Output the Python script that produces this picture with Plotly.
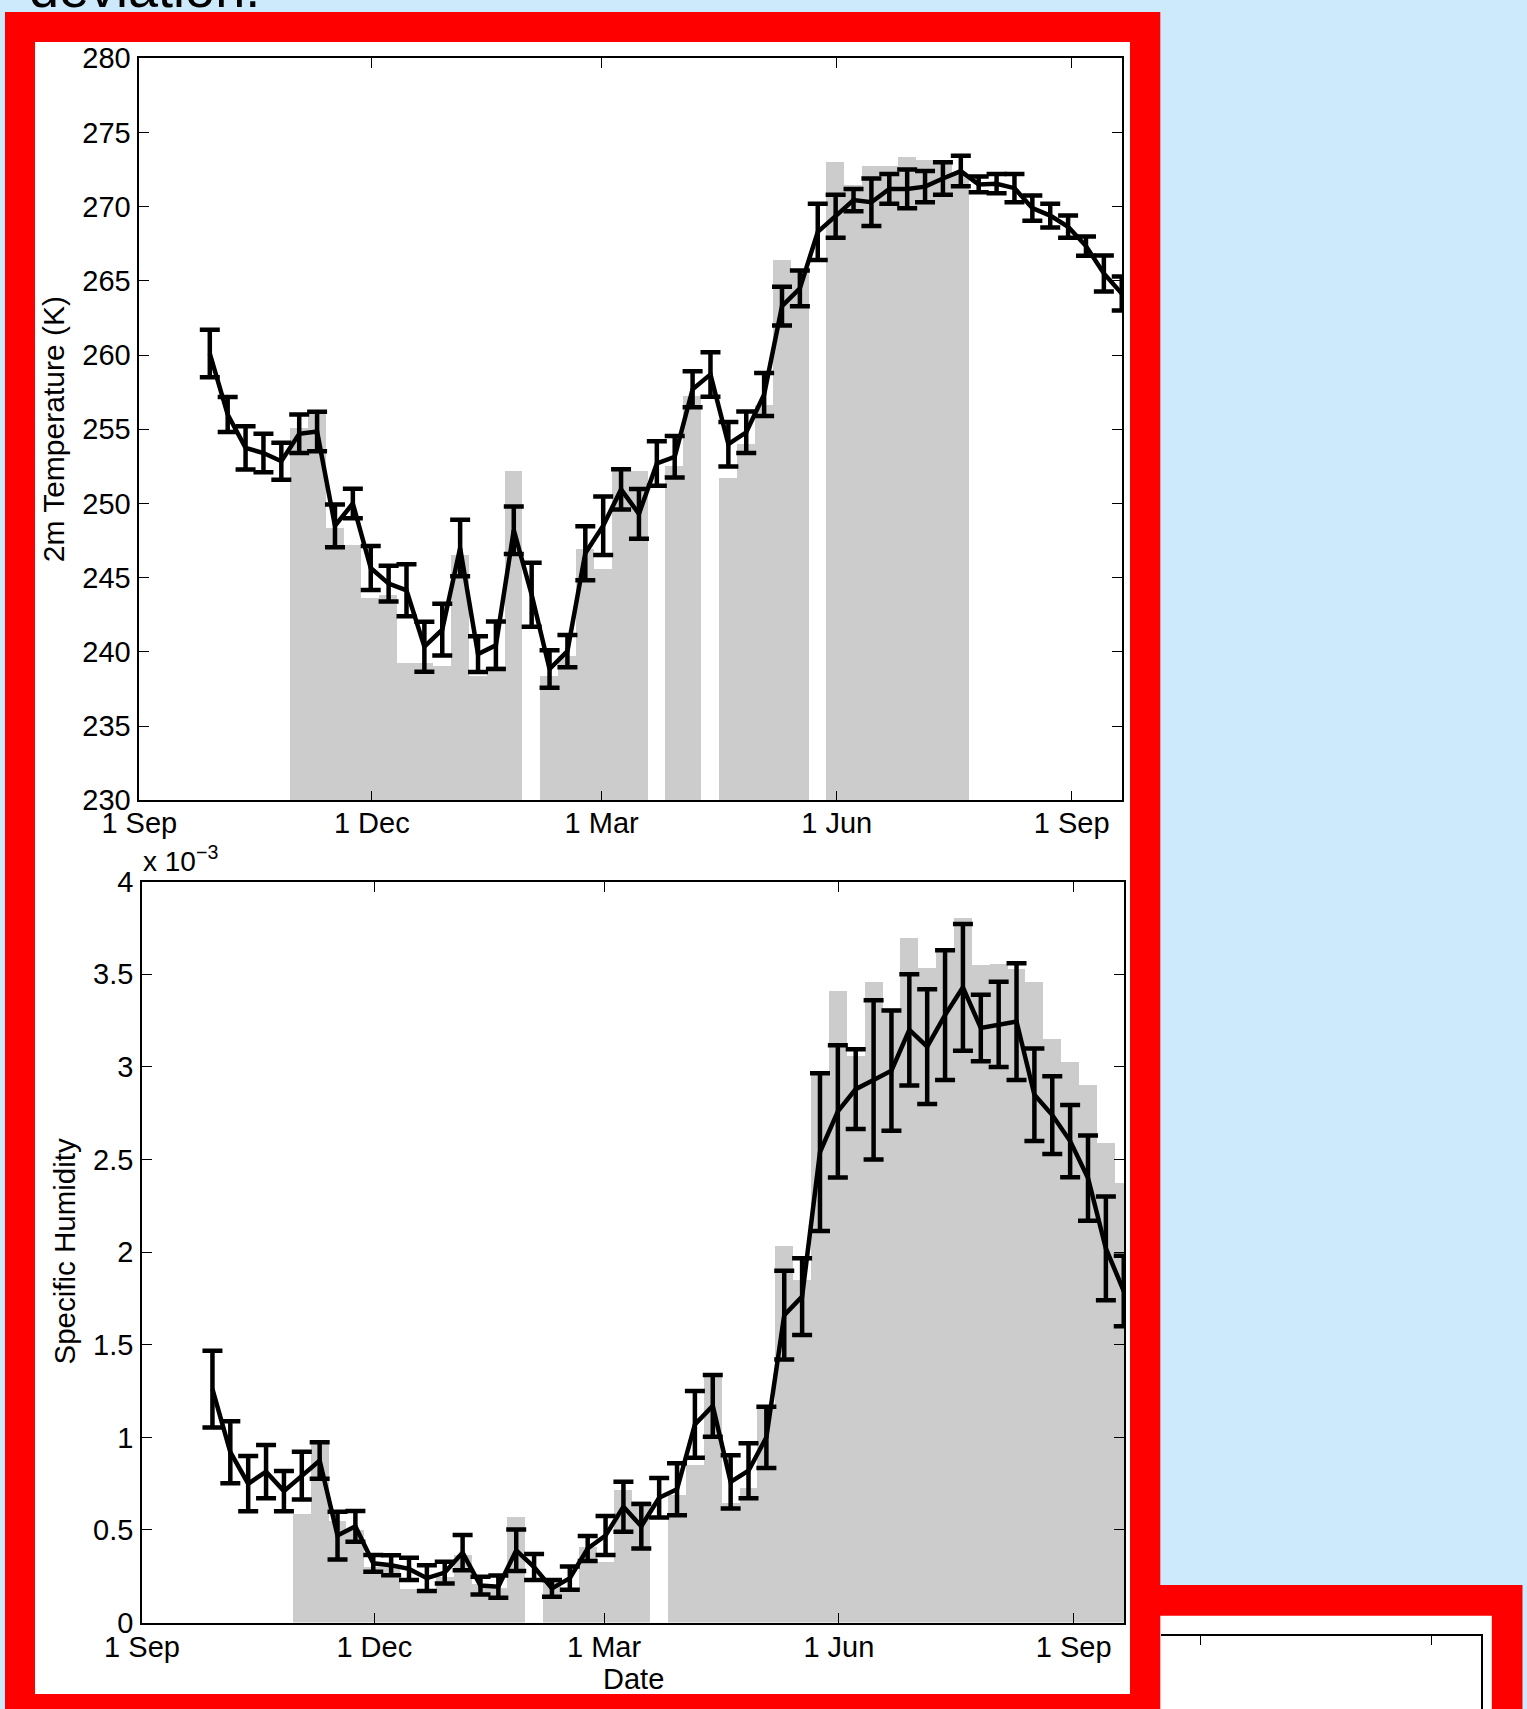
import plotly.graph_objects as go
import pandas as pd

W, H = 1527, 1709

# weekly bins (centre of each 7-day window)
week_centres = pd.date_range("2006-09-28 14:24", periods=52, freq="7D")
bin_width_ms = 7 * 24 * 3600 * 1000

# 2 m temperature (K): climatological weekly mean, standard deviation, single-year weekly values
temp_mean = [260.1, 256.0, 253.75, 253.4, 252.85, 254.7, 254.85, 248.5, 250.0, 245.65,
             244.6, 244.15, 240.35, 241.5, 247.0, 239.85, 240.45, 248.2, 243.85, 238.85,
             240.05, 246.65, 248.5, 250.95, 249.3, 252.7, 253.15, 257.7, 258.7, 254.0,
             254.8, 257.35, 263.3, 264.5, 268.3, 269.35, 270.45, 270.3, 271.2, 271.2,
             271.35, 271.9, 272.4, 271.5, 271.55, 271.25, 269.9, 269.4, 268.65, 267.35,
             265.5, 264.15]
temp_sd = [1.6, 1.18, 1.46, 1.3, 1.25, 1.3, 1.33, 1.44, 1.0, 1.48,
           1.2, 1.75, 1.68, 1.74, 1.9, 1.2, 1.6, 1.6, 2.15, 1.26,
           1.09, 1.82, 1.97, 1.35, 1.68, 1.5, 1.4, 1.22, 1.5, 1.5,
           1.4, 1.45, 1.3, 1.2, 1.9, 1.45, 0.75, 1.6, 1.0, 1.3,
           1.05, 1.1, 1.03, 0.53, 0.65, 0.95, 0.85, 0.8, 0.75, 0.65,
           1.22, 1.15]
temp_year = [None, None, None, None, None,
             255.1, 256.3, 248.3, 247.2, 243.6, 243.8, 239.2, 239.2, 239.0, 246.5,
             238.35, 239.0, 252.15, None, 238.35, 239.7, 246.9, 245.6, 252.25, 252.2,
             None, 252.5, 257.25, None, 251.7, 254.0, 256.6, 266.4, 265.6, None,
             273.0, 271.45, 272.75, 272.7, 273.3, 273.1, 272.9, 272.1,
             None, None, None, None, None, None, None, None, None]

# specific humidity (x 10^-3)
hum_mean = [1.26, 0.92, 0.75, 0.815, 0.71, 0.794, 0.875, 0.47, 0.52, 0.32,
            0.31, 0.29, 0.24, 0.27, 0.378, 0.20, 0.194, 0.39, 0.30, 0.185,
            0.24, 0.40, 0.47, 0.626, 0.52, 0.674, 0.72, 1.07, 1.17, 0.76,
            0.82, 1.0, 1.66, 1.76, 2.54, 2.76, 2.88, 2.93, 2.98, 3.20,
            3.11, 3.28, 3.43, 3.21, 3.23, 3.245, 2.85, 2.74, 2.60, 2.40,
            2.02, 1.79]
hum_sd = [0.207, 0.167, 0.149, 0.144, 0.109, 0.129, 0.099, 0.129, 0.083, 0.045,
          0.054, 0.06, 0.07, 0.059, 0.095, 0.048, 0.06, 0.112, 0.07, 0.045,
          0.063, 0.068, 0.105, 0.135, 0.12, 0.106, 0.14, 0.18, 0.167, 0.144,
          0.148, 0.166, 0.24, 0.207, 0.426, 0.357, 0.215, 0.43, 0.325, 0.30,
          0.31, 0.35, 0.342, 0.18, 0.23, 0.315, 0.25, 0.21, 0.195, 0.23,
          0.28, 0.19]
hum_year = [None, None, None, None, None,
            0.59, 0.97, 0.55, 0.50, 0.30, 0.30, 0.185, 0.185, 0.25, 0.365,
            0.21, 0.19, 0.57, None, 0.22, 0.19, 0.41, 0.33, 0.715, 0.66,
            None, 0.69, 0.85, 1.33, 0.65, 0.73, 1.17, 2.035, 1.85, 2.97,
            3.41, 3.06, 3.46, 3.32, 3.70, 3.535, 3.63, 3.805, 3.55, 3.56,
            3.53, 3.46, 3.15, 3.03, 2.905, 2.59, 2.375]

date_ticks = ["2006-09-01", "2006-12-01", "2007-03-01", "2007-06-01", "2007-09-01"]
date_labels = ["1 Sep", "1 Dec", "1 Mar", "1 Jun", "1 Sep"]
date_range = ["2006-09-01", "2007-09-20 16:48"]
temp_ticks = [230, 235, 240, 245, 250, 255, 260, 265, 270, 275, 280]
hum_ticks = [0, 0.5, 1, 1.5, 2, 2.5, 3, 3.5, 4]
hum_labels = ["0", "0.5", "1", "1.5", "2", "2.5", "3", "3.5", "4"]

FONT = "Liberation Sans, Arial, Helvetica, sans-serif"
BG = "#cceafc"
RED = "#ff0000"
GREY = "#cccccc"


def fx(p):
    return p / W


def fy(p):
    return 1 - p / H


fig = go.Figure()

for xa, ya, year, mean, sd in [("x", "y", temp_year, temp_mean, temp_sd),
                               ("x2", "y2", hum_year, hum_mean, hum_sd)]:
    fig.add_trace(go.Bar(x=week_centres, y=year, width=bin_width_ms,
                         marker=dict(color=GREY, line=dict(width=0)),
                         xaxis=xa, yaxis=ya, showlegend=False, hoverinfo="skip"))
    fig.add_trace(go.Scatter(x=week_centres, y=mean, mode="lines",
                             line=dict(color="black", width=4.5),
                             error_y=dict(type="data", array=sd, color="black",
                                          thickness=4.5, width=10),
                             xaxis=xa, yaxis=ya, showlegend=False))

# neighbouring panel (only its top edge shows)
fig.add_trace(go.Scatter(x=[], y=[], xaxis="x3", yaxis="y3", showlegend=False))

axis_common = dict(showline=True, linecolor="black", linewidth=1.6, mirror="ticks",
                   ticks="inside", ticklen=10, tickwidth=1.4, tickcolor="black",
                   showgrid=False, zeroline=False,
                   tickfont=dict(family=FONT, size=29, color="black"))

fig.update_layout(
    width=W, height=H,
    margin=dict(l=0, r=0, t=0, b=0, autoexpand=False),
    paper_bgcolor=BG, plot_bgcolor="rgba(0,0,0,0)",
    bargap=0,
    font=dict(family=FONT, size=29, color="black"),
    xaxis=dict(axis_common, domain=[fx(139.3), fx(1122)], anchor="y", type="date",
               range=date_range, tickmode="array", tickvals=date_ticks,
               ticktext=date_labels, ticklabelstandoff=-4),
    yaxis=dict(axis_common, domain=[fy(800.3), fy(58.3)], anchor="x",
               range=[230, 280], tickmode="array", tickvals=temp_ticks,
               ticklabelstandoff=1),
    xaxis2=dict(axis_common, domain=[fx(142), fx(1124)], anchor="y2", type="date",
                range=date_range, tickmode="array", tickvals=date_ticks,
                ticktext=date_labels, ticklabelstandoff=-2),
    yaxis2=dict(axis_common, domain=[fy(1622.6), fy(881.7)], anchor="x2",
                range=[0, 4], tickmode="array", tickvals=hum_ticks,
                ticktext=hum_labels, ticklabelstandoff=1),
    xaxis3=dict(domain=[fx(1160.5), fx(1480.5)], anchor="y3", type="date", side="top",
                range=["2007-05-16 02:00", "2007-09-20 16:48"], tickmode="array",
                tickvals=date_ticks, showticklabels=False, ticks="inside", ticklen=9,
                tickwidth=1.4, tickcolor="black", showline=True, linecolor="black",
                linewidth=1.6, showgrid=False, zeroline=False),
    yaxis3=dict(domain=[0, fy(1635.7)], anchor="x3", side="right", range=[0, 1],
                showline=True, linecolor="black", linewidth=1.6, showticklabels=False,
                ticks="", showgrid=False, zeroline=False),
)

shapes = [
    # neighbouring slide panel
    dict(x0=1130, x1=1522.5, y0=1585, y1=1730, fill=RED),
    dict(x0=1140, x1=1491.8, y0=1615.7, y1=1730, fill="white"),
    # main panel frame
    dict(x0=5, x1=1160.3, y0=12, y1=1730, fill=RED),
    dict(x0=35, x1=1130, y0=42, y1=1694, fill="white"),
]
fig.update_layout(shapes=[
    dict(type="rect", xref="paper", yref="paper",
         x0=fx(s["x0"]), x1=fx(s["x1"]), y0=fy(s["y1"]), y1=fy(s["y0"]),
         fillcolor=s["fill"], line=dict(width=0), layer="below")
    for s in shapes
])

fig.update_layout(annotations=[
    dict(text="deviation.", xref="paper", yref="paper", x=fx(27), y=fy(20.5),
         xanchor="left", yanchor="bottom", showarrow=False,
         font=dict(family=FONT, size=54, color="black")),
    dict(text="2m Temperature (K)", xref="paper", yref="paper", x=fx(53), y=fy(429.3),
         xanchor="center", yanchor="middle", textangle=-90, showarrow=False,
         font=dict(family=FONT, size=30, color="black")),
    dict(text="Specific Humidity", xref="paper", yref="paper", x=fx(63.5), y=fy(1252),
         xanchor="center", yanchor="middle", textangle=-90, showarrow=False,
         font=dict(family=FONT, size=29.5, color="black")),
    dict(text="Date", xref="paper", yref="paper", x=fx(633), y=fy(1679.3),
         xanchor="center", yanchor="middle", showarrow=False,
         font=dict(family=FONT, size=29, color="black")),
    dict(text="x 10<sup>\u22123</sup>", xref="paper", yref="paper", x=fx(141), y=fy(878.6),
         xanchor="left", yanchor="bottom", showarrow=False,
         font=dict(family=FONT, size=28, color="black")),
])

fig.write_html("out.html")
